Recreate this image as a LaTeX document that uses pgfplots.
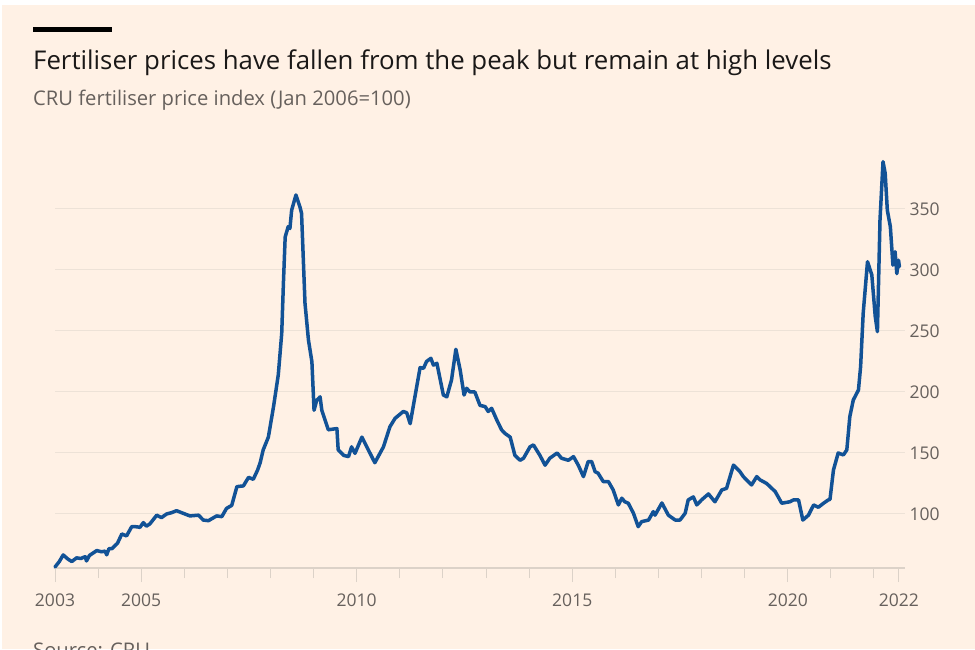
\documentclass[border=0pt]{standalone}
\usepackage{pgfplots}
\pgfplotsset{compat=1.18}
\usepackage{fontspec}
\setmainfont{Open Sans}
\definecolor{ftpaper}{HTML}{FFF1E5}
\definecolor{ftblue}{RGB}{18,82,150}
\definecolor{ftgray}{HTML}{66605C}
\definecolor{ftblack}{HTML}{1A1817}
\definecolor{gridc}{HTML}{EDE2D7}
\definecolor{tickc}{HTML}{DCD2C8}
\begin{document}
\begin{tikzpicture}[x=1pt,y=1pt]
\clip (0,0) rectangle (975,649);
\fill[white] (0,0) rectangle (975,649);
\fill[ftpaper] (2,0) rectangle (975,644);
\fill[black] (33,616.7) rectangle (112,621.7);
\node[anchor=base west, inner sep=0pt, text=ftblack, font=\fontsize{25.8}{28}\selectfont] at (33,579.7) {Fertiliser prices have fallen from the peak but remain at high levels};
\node[anchor=base west, inner sep=0pt, text=ftgray, font=\fontsize{20.2}{22}\selectfont] at (33,543.7) {CRU fertiliser price index (Jan 2006=100)};
\node[anchor=base west, inner sep=0pt, text=ftgray, font=\fontsize{20.2}{22}\selectfont] at (33,-8) {Source: CRU};
\begin{axis}[
  at={(55pt,81pt)}, anchor=south west,
  scale only axis, width=850pt, height=420pt,
  xmin=2003, xmax=2022.72, ymin=55.7, ymax=400,
  axis x line=bottom, axis y line=right,
  x axis line style={draw=tickc, line width=2pt, -},
  y axis line style={draw=none},
  xtick={2003,2005,2010,2015,2020,2022.58},
  xticklabels={2003,2005,2010,2015,2020,2022},
  minor xtick={2004,2006,2007,2008,2009,2011,2012,2013,2014,2016,2017,2018,2019,2021,2022},
  tick align=outside,
  major tick length=14pt, minor tick length=10pt,
  xtick style={draw=tickc, line width=1pt},
  minor x tick style={draw=tickc, line width=1pt},
  ytick={100,150,200,250,300,350},
  ytick style={draw=none},
  ymajorgrids, grid style={draw=gridc, line width=1pt},
  /pgf/number format/assume math mode=true,
  /pgf/number format/1000 sep={},
  ticklabel style={font=\fontsize{17.5}{20}\selectfont, text=ftgray},
  yticklabel style={anchor=west, xshift=-13pt},
  xticklabel style={yshift=-8pt},
  clip=false,
]
\addplot[ftblue, line width=3.5pt, line join=round, line cap=round] coordinates {
(2003.00,56.5)(2003.10,61)(2003.19,66.4)(2003.30,63)(2003.39,61)(2003.50,64)(2003.60,63.5)(2003.70,65)(2003.73,61.5)(2003.80,66)
(2003.97,70)(2004.08,69)(2004.16,69.5)(2004.20,66.5)(2004.25,71.5)(2004.32,71.5)(2004.45,76)(2004.55,83.6)(2004.66,82)(2004.78,89.6)
(2004.90,89.5)(2004.97,89)(2005.05,92.9)(2005.12,90)(2005.20,91.8)(2005.36,99)(2005.47,97)(2005.59,100)(2005.70,101)(2005.82,102.7)
(2005.94,101)(2006.13,98.4)(2006.33,99)(2006.44,95)(2006.56,94.5)(2006.75,98.4)(2006.87,97.8)(2006.98,104.6)(2007.10,107)(2007.22,122.4)
(2007.37,123)(2007.49,130)(2007.60,128.4)(2007.70,136)(2007.76,142)(2007.83,152.5)(2007.95,163)(2008.07,188)(2008.18,214)(2008.26,248)
(2008.30,290)(2008.34,327)(2008.41,335.5)(2008.45,334)(2008.49,349)(2008.59,361.5)(2008.68,352)(2008.72,346.5)(2008.80,272.7)(2008.88,242.6)
(2008.96,224.8)(2009.01,185)(2009.07,193)(2009.15,196)(2009.19,185)(2009.34,169)(2009.54,170)(2009.57,152.5)(2009.70,148)(2009.81,147)
(2009.88,155)(2009.96,149.7)(2010.12,163)(2010.27,152.5)(2010.42,142)(2010.62,155)(2010.77,171.5)(2010.89,178.4)(2011.08,184)(2011.16,183)
(2011.24,174)(2011.35,196)(2011.47,220)(2011.55,219.4)(2011.62,225)(2011.72,227.6)(2011.78,222)(2011.86,223.5)(2012.01,197.5)(2012.09,196)
(2012.20,210)(2012.30,235)(2012.40,218)(2012.49,197.5)(2012.55,203)(2012.63,200)(2012.74,200)(2012.86,189)(2012.98,188)(2013.05,184)
(2013.13,186.6)(2013.25,177)(2013.36,169)(2013.44,166)(2013.56,163)(2013.67,148)(2013.79,144)(2013.87,145.7)(2014.02,155)(2014.10,156.6)
(2014.25,148)(2014.37,140)(2014.48,145.7)(2014.65,150)(2014.75,145.7)(2014.91,144)(2015.03,147)(2015.14,140)(2015.26,130.6)(2015.37,143)
(2015.45,143)(2015.53,134.7)(2015.60,133.4)(2015.72,126.5)(2015.84,126.5)(2015.95,119.7)(2016.07,107.4)(2016.15,112.9)(2016.22,110)(2016.30,108.8)
(2016.42,100.6)(2016.53,89.6)(2016.61,93.7)(2016.77,95)(2016.88,101.9)(2016.92,99)(2017.08,109)(2017.23,99)(2017.39,95)(2017.50,95)
(2017.62,100.6)(2017.69,111.5)(2017.81,114)(2017.89,107.4)(2018.00,111.5)(2018.16,116.4)(2018.31,110)(2018.47,119.7)(2018.58,121)(2018.74,140)
(2018.89,134.7)(2018.97,130.6)(2019.16,123.8)(2019.28,130.6)(2019.36,127.9)(2019.51,125)(2019.71,118.3)(2019.86,108.8)(2020.05,110)(2020.13,111.5)
(2020.25,111.5)(2020.35,95)(2020.48,99)(2020.60,107.4)(2020.71,105.5)(2020.83,108.8)(2020.94,111.5)(2020.98,112)(2021.06,136)(2021.17,150)
(2021.29,148.4)(2021.37,152.5)(2021.44,179.8)(2021.52,193.4)(2021.64,201.6)(2021.69,220.7)(2021.75,264.5)(2021.85,306.8)(2021.95,296)(2022.03,261.7)
(2022.08,249.4)(2022.14,341)(2022.21,388.8)(2022.26,379.3)(2022.31,349)(2022.38,335.5)(2022.44,304)(2022.49,315)(2022.53,297)(2022.57,308)
(2022.59,302.7)
};
\end{axis}
\end{tikzpicture}
\end{document}
